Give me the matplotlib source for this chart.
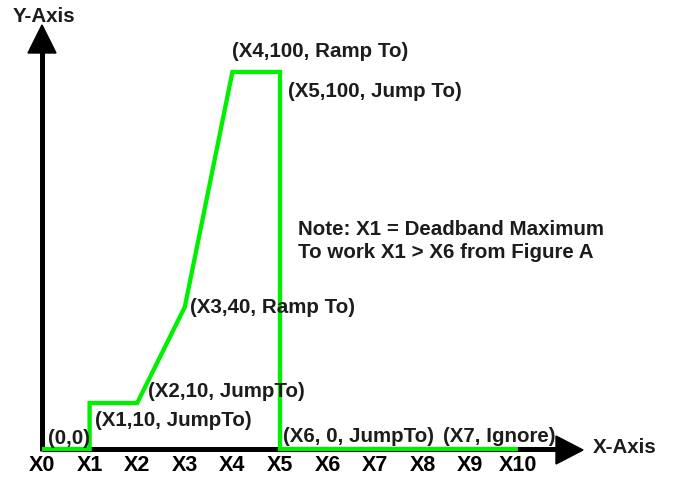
import numpy as np
import matplotlib
matplotlib.use("Agg")
import matplotlib.pyplot as plt
from matplotlib.patches import Polygon
from matplotlib.scale import FuncScale
import matplotlib.transforms as mtransforms

# ---------------- data ----------------
x_tick_labels = ["X0", "X1", "X2", "X3", "X4", "X5", "X6", "X7", "X8", "X9", "X10"]
curve_x = [0, 1, 1, 2, 3, 4, 5, 5, 10]
curve_y = [0, 0, 10, 10, 40, 100, 100, 0, 0]
point_labels = ["(0,0)", "(X1,10, JumpTo)", "(X2,10, JumpTo)", "(X3,40, Ramp To)",
                "(X4,100, Ramp To)", "(X5,100, Jump To)", "(X6, 0, JumpTo)", "(X7, Ignore)"]
note_lines = ["Note: X1 = Deadband Maximum", "To work X1 > X6 from Figure A"]
x_axis_title = "X-Axis"
y_axis_title = "Y-Axis"

# ---------------- layout ----------------
W, H = 673, 481
fig = plt.figure(figsize=(W / 100, H / 100), dpi=100)
ax = fig.add_axes([0, 0, 1, 1])
ax.axis("off")

# non-linear display scale of the sketch (value -> pixel height above baseline)
scale_vals = np.array([-1000.0, 0.0, 10.0, 40.0, 100.0, 1000.0])
scale_hts = np.array([-4700.0, 0.0, 46.0, 142.0, 377.0, 377.0 + 900 * 3.92])

def fwd(v):
    return np.interp(np.asarray(v, float), scale_vals, scale_hts)

def inv(h):
    return np.interp(np.asarray(h, float), scale_hts, scale_vals)

ax.set_yscale(FuncScale(ax, (fwd, inv)))
base_px = 450          # baseline pixel row (from top)
x0_px, step_px = 42, 47.6
ax.set_xlim(-x0_px / step_px, (W - x0_px) / step_px)
ax.set_ylim(float(inv(-(H - base_px))), float(inv(base_px)))

def P(x, y):
    """top-left pixel -> figure pixel coordinates"""
    return (x, H - y)

fig_px = mtransforms.IdentityTransform()
dark = "#1c1c1c"
fnt = dict(family="Liberation Sans", weight="bold")
fs = 14.8

# axes lines (black)
ax.plot([P(42, 0)[0], P(560, 0)[0]], [P(0, 450)[1]] * 2, color="black", lw=3.6,
        transform=fig_px, solid_capstyle="butt", zorder=2)
ax.plot([P(42, 0)[0]] * 2, [P(0, 452)[1], P(0, 50)[1]], color="black", lw=3.6,
        transform=fig_px, solid_capstyle="butt", zorder=2)
ax.add_patch(Polygon([P(556, 437), P(583, 451), P(556, 465)], closed=True,
                     color="black", transform=fig_px, zorder=2))
ax.add_patch(Polygon([P(28, 54), P(42, 26), P(56, 54)], closed=True,
                     color="black", transform=fig_px, zorder=2))

# green curve
ax.plot(curve_x, curve_y, color="#00f000", lw=3.1, solid_joinstyle="miter",
        solid_capstyle="butt", clip_on=False, zorder=3)

# tick labels
blend = mtransforms.blended_transform_factory(ax.transData, fig_px)
for i, lab in enumerate(x_tick_labels):
    ax.text(i, H - 466, lab, transform=blend, ha="center", va="center",
            fontsize=15.5, color="black", **fnt)

# point labels
label_pos = [(48, 439), (95, 421), (148, 392), (190, 308),
             (232, 52), (288, 92), (283, 437), (443, 437)]
for lab, (px, py) in zip(point_labels, label_pos):
    ax.text(*P(px, py), lab, transform=fig_px, ha="left", va="center",
            fontsize=fs, color=dark, **fnt)

for j, line in enumerate(note_lines):
    ax.text(*P(298, 230 + 23 * j), line, transform=fig_px, ha="left", va="center",
            fontsize=fs, color=dark, **fnt)

ax.text(*P(13, 17), y_axis_title, transform=fig_px, ha="left", va="center",
        fontsize=fs, color=dark, **fnt)
ax.text(*P(593, 448), x_axis_title, transform=fig_px, ha="left", va="center",
        fontsize=fs, color=dark, **fnt)

fig.savefig("out.png", dpi=100)
